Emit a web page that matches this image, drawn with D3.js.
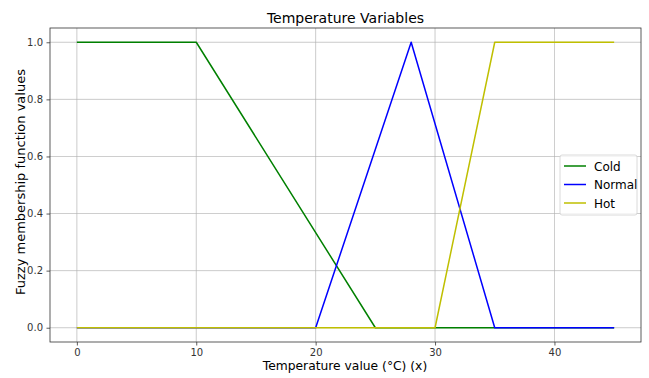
<!DOCTYPE html>
<html>
<head>
<meta charset="utf-8">
<script src="https://cdn.jsdelivr.net/npm/d3@7"></script>
<style>
  body { margin: 0; background: #fff; }
  text { font-family: "DejaVu Sans", sans-serif; }
</style>
</head>
<body>
<svg id="chart" width="649" height="378"></svg>
<script>
// membership function breakpoints
const coldX = [0, 10, 25, 45];
const coldY = [1, 1, 0, 0];
const normalX = [0, 20, 28, 35, 45];
const normalY = [0, 0, 1, 0, 0];
const hotX = [0, 30, 35, 45];
const hotY = [0, 0, 1, 1];
const xTicks = [0, 10, 20, 30, 40];
const yTicks = [0.0, 0.2, 0.4, 0.6, 0.8, 1.0];
const seriesNames = ['Cold', 'Normal', 'Hot'];
const seriesColors = ['#008000', '#0000ff', '#bfbf00'];

const plotL = 50, plotR = 641, plotT = 28, plotB = 342;

const svg = d3.select('#chart');

const xScale = d3.scaleLinear().domain([-2.25, 47.25]).range([plotL, plotR]);
const yScale = d3.scaleLinear().domain([-0.05, 1.05]).range([plotB, plotT]);

// grid
svg.append('g')
   .selectAll('line')
   .data(xTicks)
   .join('line')
   .attr('x1', d => xScale(d)).attr('x2', d => xScale(d))
   .attr('y1', plotT).attr('y2', plotB)
   .attr('stroke', '#b0b0b0').attr('stroke-width', 0.8).attr('opacity', 0.8);
svg.append('g')
   .selectAll('line')
   .data(yTicks)
   .join('line')
   .attr('y1', d => yScale(d)).attr('y2', d => yScale(d))
   .attr('x1', plotL).attr('x2', plotR)
   .attr('stroke', '#b0b0b0').attr('stroke-width', 0.8).attr('opacity', 0.8);

// axes
const xAxis = d3.axisBottom(xScale).tickValues(xTicks).tickSize(3.5).tickPadding(3.5)
                .tickFormat(d3.format('d'));
const yAxis = d3.axisLeft(yScale).tickValues(yTicks).tickSize(3.5).tickPadding(3.5)
                .tickFormat(d3.format('.1f'));

const gx = svg.append('g').attr('transform', `translate(0,${plotB})`).call(xAxis);
const gy = svg.append('g').attr('transform', `translate(${plotL},0)`).call(yAxis);
[gx, gy].forEach(g => {
  g.select('.domain').remove();
  g.selectAll('.tick line').attr('stroke', '#333').attr('stroke-width', 0.8);
  g.selectAll('.tick text').attr('fill', '#333').style('font-size', '10px')
   .style('font-family', '"DejaVu Sans", sans-serif');
});

// lines
const line = d3.line()
               .x(d => xScale(d[0]))
               .y(d => yScale(d[1]));

const series = [
  d3.zip(coldX, coldY),
  d3.zip(normalX, normalY),
  d3.zip(hotX, hotY)
];

svg.append('g')
   .selectAll('path')
   .data(series)
   .join('path')
   .attr('d', line)
   .attr('fill', 'none')
   .attr('stroke', (d, i) => seriesColors[i])
   .attr('stroke-width', 1.5)
   .attr('stroke-linejoin', 'round');

// frame
svg.append('rect')
   .attr('x', plotL).attr('y', plotT)
   .attr('width', plotR - plotL).attr('height', plotB - plotT)
   .attr('fill', 'none').attr('stroke', '#333').attr('stroke-width', 0.8);

// title & labels
svg.append('text')
   .attr('x', (plotL + plotR) / 2).attr('y', 23)
   .attr('text-anchor', 'middle')
   .style('font-size', '14px')
   .text('Temperature Variables');

svg.append('text')
   .attr('x', 345).attr('y', 370)
   .attr('text-anchor', 'middle')
   .style('font-size', '12.3px')
   .text('Temperature value (°C) (x)');

svg.append('text')
   .attr('transform', `translate(25,182) rotate(-90)`)
   .attr('text-anchor', 'middle')
   .style('font-size', '13px')
   .text('Fuzzy membership function values');

// legend
const lg = svg.append('g').attr('transform', 'translate(560,155)');
lg.append('rect')
  .attr('width', 77).attr('height', 60)
  .attr('rx', 2)
  .attr('fill', '#fff').attr('fill-opacity', 0.8)
  .attr('stroke', '#d0d0d0').attr('stroke-width', 0.8);
const items = lg.selectAll('g')
  .data(seriesNames)
  .join('g')
  .attr('transform', (d, i) => `translate(0,${11 + i * 18.5})`);
items.append('line')
  .attr('x1', 4).attr('x2', 26)
  .attr('stroke', (d, i) => seriesColors[i]).attr('stroke-width', 1.5);
items.append('text')
  .attr('x', 34).attr('y', 4.5)
  .style('font-size', '12px')
  .text(d => d);
</script>
</body>
</html>
